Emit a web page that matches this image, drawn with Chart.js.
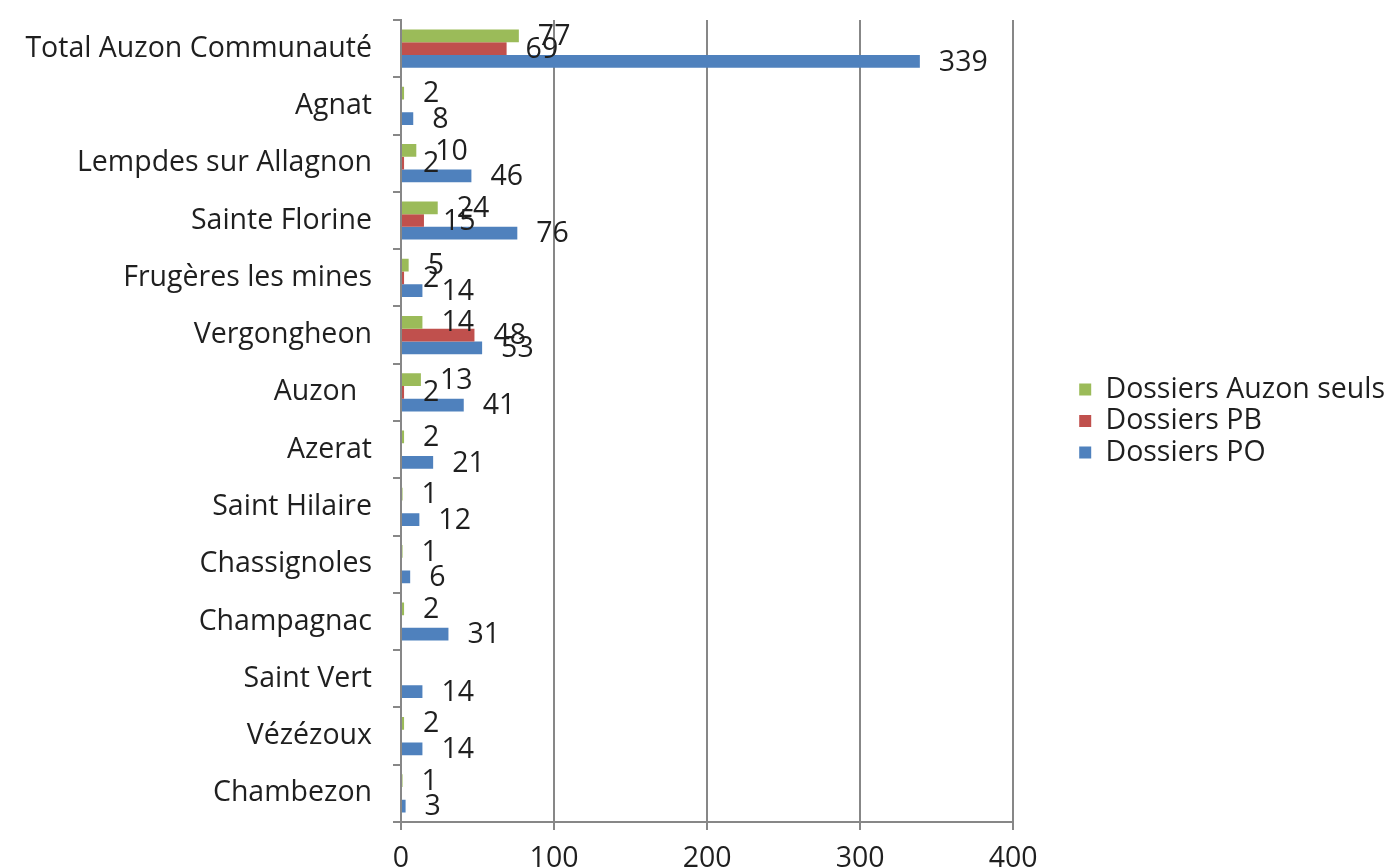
<!DOCTYPE html>
<html lang="fr">
<head>
<meta charset="utf-8">
<title>Dossiers par commune</title>
<script src="https://cdn.jsdelivr.net/npm/chart.js@4.4.1/dist/chart.umd.min.js"></script>
<style>
  html, body { margin: 0; padding: 0; background: #ffffff; }
  #wrap { width: 1395px; height: 868px; }
</style>
</head>
<body>
<div id="wrap"><canvas id="c" width="1395" height="868"></canvas></div>
<script>
// Communes (top to bottom)
const categories = [
  'Total Auzon Communauté', 'Agnat', 'Lempdes sur Allagnon', 'Sainte Florine',
  'Frugères les mines', 'Vergongheon', 'Auzon  ', 'Azerat', 'Saint Hilaire',
  'Chassignoles', 'Champagnac', 'Saint Vert', 'Vézézoux', 'Chambezon'
];

// Number of files per commune (null = no file)
const dossiersAuzonSeuls = [77, 2, 10, 24, 5, 14, 13, 2, 1, 1, 2, null, 2, 1];
const dossiersPB         = [69, null, 2, 15, 2, 48, 2, null, null, null, null, null, null, null];
const dossiersPO         = [339, 8, 46, 76, 14, 53, 41, 21, 12, 6, 31, 14, 14, 3];

const xTicks = [0, 100, 200, 300, 400];

const FONT = "'Open Sans', 'Noto Sans', sans-serif";
const FONT_SIZE = 28.5;
const TEXT = '#1f1f1f';
const GRID = '#878787';

// Value labels written just past the end of each bar
const valueLabels = {
  id: 'valueLabels',
  afterDatasetsDraw(chart) {
    const ctx = chart.ctx;
    ctx.save();
    ctx.font = FONT_SIZE + 'px ' + FONT;
    ctx.fillStyle = TEXT;
    ctx.textAlign = 'left';
    ctx.textBaseline = 'middle';
    chart.data.datasets.forEach((ds, i) => {
      const meta = chart.getDatasetMeta(i);
      meta.data.forEach((bar, j) => {
        const v = ds.data[j];
        if (v === null || v === undefined) return;
        ctx.fillText(String(v), bar.x + 19, bar.y + 1);
      });
    });
    ctx.restore();
  }
};

new Chart(document.getElementById('c'), {
  type: 'bar',
  data: {
    labels: categories,
    datasets: [
      { label: 'Dossiers Auzon seuls', data: dossiersAuzonSeuls, backgroundColor: '#9bbb59' },
      { label: 'Dossiers PB',          data: dossiersPB,         backgroundColor: '#c0504d' },
      { label: 'Dossiers PO',          data: dossiersPO,         backgroundColor: '#4f81bd' }
    ]
  },
  options: {
    indexAxis: 'y',
    responsive: false,
    devicePixelRatio: 1,
    animation: false,
    datasets: {
      bar: { categoryPercentage: 0.667, barPercentage: 1.0, borderWidth: 0 }
    },
    layout: { padding: { top: 20, left: 0, right: 0, bottom: 0 } },
    scales: {
      x: {
        type: 'linear',
        position: 'bottom',
        min: 0,
        max: 400,
        afterBuildTicks(scale) { scale.ticks = xTicks.map(v => ({ value: v })); },
        grid: { color: GRID, lineWidth: 2, tickLength: 8, drawTicks: true },
        border: { color: GRID, width: 2 },
        ticks: { font: { family: FONT, size: FONT_SIZE }, color: TEXT, padding: 12, maxRotation: 0 },
        afterFit(scale) { scale.height = 46; }
      },
      y: {
        type: 'category',
        position: 'left',
        grid: { offset: true, drawOnChartArea: false, drawTicks: true, tickLength: 8, color: GRID, lineWidth: 2 },
        border: { color: GRID, width: 2 },
        ticks: { font: { family: FONT, size: FONT_SIZE }, color: TEXT, padding: 21, autoSkip: false },
        afterFit(scale) {
          scale.width = 401;
          scale.paddingTop = 0;
          scale.paddingBottom = 0;
        }
      },
      // spacer between the plot and the legend
      gap: {
        type: 'linear',
        position: 'right',
        display: true,
        grid: { display: false },
        border: { display: false },
        ticks: { display: false },
        afterFit(scale) {
          scale.width = 63;
          scale.paddingTop = 0;
          scale.paddingBottom = 0;
        }
      }
    },
    plugins: {
      legend: {
        position: 'right',
        fullSize: false,
        align: 'center',
        maxWidth: 420,
        labels: {
          boxWidth: 12,
          boxHeight: 12,
          padding: 3,
          color: TEXT,
          font: { family: FONT, size: FONT_SIZE, lineHeight: 1 }
        }
      },
      tooltip: { enabled: false }
    }
  },
  plugins: [valueLabels]
});
</script>
</body>
</html>
